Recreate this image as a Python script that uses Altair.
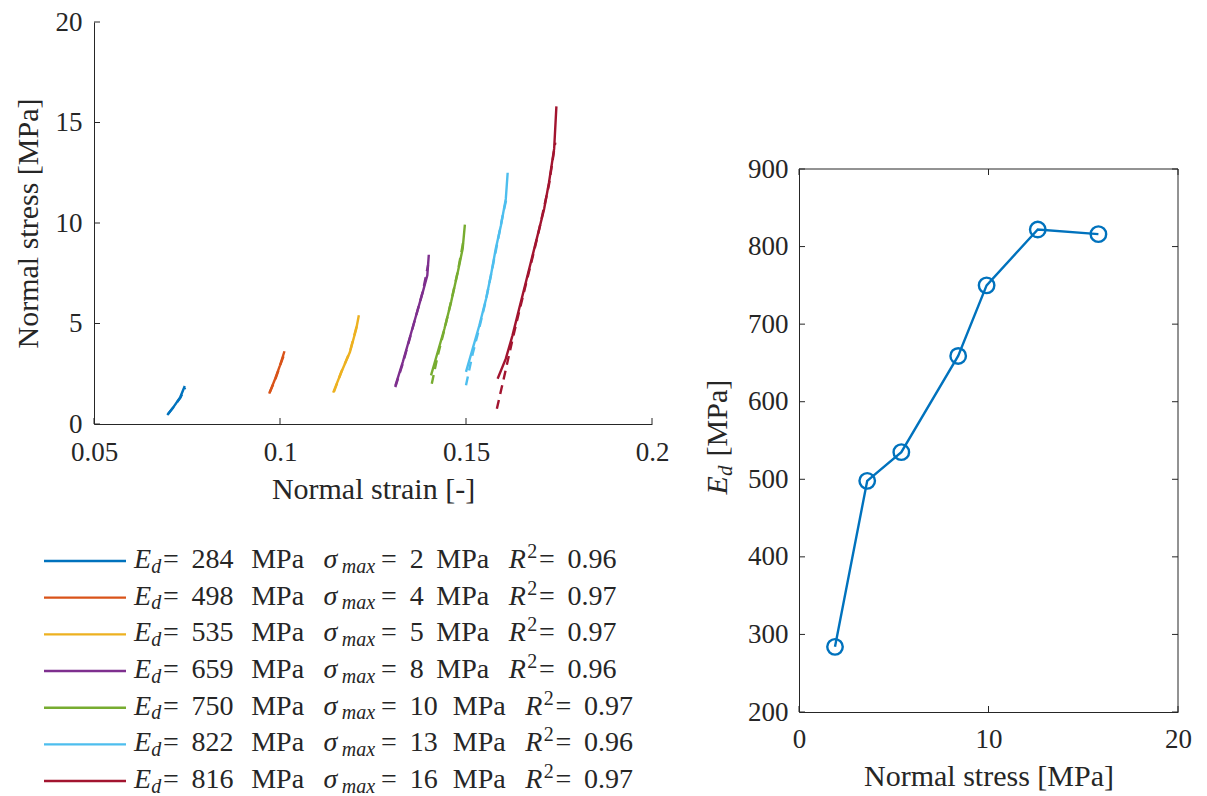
import altair as alt
import pandas as pd

# ---------------- data ----------------
series = ["s1", "s2", "s3", "s4", "s5", "s6", "s7"]
colors = ["#0072BD", "#D95319", "#EDB120", "#7E2F8E", "#77AC30", "#4DBEEE", "#A2142F"]

E_d = [284, 498, 535, 659, 750, 822, 816]
sigma_max_label = [2, 4, 5, 8, 10, 13, 16]
r_squared = [0.96, 0.97, 0.97, 0.96, 0.97, 0.96, 0.97]
sigma_max = [1.9, 3.6, 5.4, 8.4, 9.9, 12.6, 15.8]

# measured stress-strain segments (solid)
strain_1 = [0.0697, 0.0714, 0.0732, 0.0744]
stress_1 = [0.45, 0.85, 1.34, 1.89]
strain_2 = [0.0971, 0.0987, 0.1000, 0.1012]
stress_2 = [1.51, 2.25, 2.92, 3.62]
strain_3 = [0.1143, 0.1165, 0.1188, 0.1205, 0.1212]
stress_3 = [1.56, 2.59, 3.58, 4.74, 5.41]
strain_4 = [0.1310, 0.1330, 0.1348, 0.1366, 0.1384, 0.1396, 0.1400]
stress_4 = [1.90, 3.08, 4.24, 5.41, 6.57, 7.40, 8.42]
strain_5 = [0.1406, 0.1424, 0.1442, 0.1460, 0.1478, 0.1491, 0.1497]
stress_5 = [2.42, 3.58, 4.74, 6.07, 7.56, 8.72, 9.92]
strain_6 = [0.1500, 0.1518, 0.1536, 0.1554, 0.1567, 0.1580, 0.1594, 0.1607, 0.1612]
stress_6 = [2.59, 3.75, 4.91, 6.23, 7.40, 8.72, 9.89, 11.2, 12.5]
strain_7 = [0.1585, 0.1607, 0.1625, 0.1643, 0.1661, 0.1679, 0.1697, 0.1710, 0.1723, 0.1737, 0.1743]
stress_7 = [2.25, 3.25, 4.41, 5.74, 7.06, 8.39, 9.72, 10.7, 12.0, 13.7, 15.8]

# fitted curves (dashed)
fit_strain_1 = [0.0699, 0.0714, 0.0732, 0.0745]
fit_stress_1 = [0.50, 0.85, 1.30, 1.80]
fit_strain_2 = [0.0972, 0.0987, 0.1000, 0.1012]
fit_stress_2 = [1.55, 2.20, 2.90, 3.50]
fit_strain_3 = [0.1145, 0.1165, 0.1188, 0.1208]
fit_stress_3 = [1.60, 2.60, 3.60, 5.00]
fit_strain_4 = [0.1310, 0.1330, 0.1348, 0.1366, 0.1384, 0.1398]
fit_stress_4 = [1.84, 3.00, 4.20, 5.40, 6.60, 7.90]
fit_strain_5 = [0.1408, 0.1424, 0.1442, 0.1460, 0.1478, 0.1494]
fit_stress_5 = [2.00, 3.40, 4.70, 6.10, 7.60, 9.20]
fit_strain_6 = [0.1500, 0.1518, 0.1536, 0.1554, 0.1580, 0.1600, 0.1610]
fit_stress_6 = [1.93, 3.50, 4.80, 6.20, 8.60, 10.5, 11.3]
fit_strain_7 = [0.1583, 0.1602, 0.1625, 0.1643, 0.1661, 0.1679, 0.1697, 0.1723, 0.1740]
fit_stress_7 = [0.76, 2.30, 4.20, 5.60, 6.95, 8.30, 9.70, 11.9, 14.0]

strain_ticks = [0.05, 0.1, 0.15, 0.2]
stress_ticks = [0, 5, 10, 15, 20]
sigma_ticks = [0, 10, 20]
ed_ticks = [200, 300, 400, 500, 600, 700, 800, 900]

meas_strain = [strain_1, strain_2, strain_3, strain_4, strain_5, strain_6, strain_7]
meas_stress = [stress_1, stress_2, stress_3, stress_4, stress_5, stress_6, stress_7]
fit_strain = [fit_strain_1, fit_strain_2, fit_strain_3, fit_strain_4, fit_strain_5, fit_strain_6, fit_strain_7]
fit_stress = [fit_stress_1, fit_stress_2, fit_stress_3, fit_stress_4, fit_stress_5, fit_stress_6, fit_stress_7]


def long_table(xs_list, ys_list):
    rows = []
    for s, xs, ys in zip(series, xs_list, ys_list):
        for k, (a, b) in enumerate(zip(xs, ys)):
            rows.append({"series": s, "strain": a, "stress": b, "k": k})
    return pd.DataFrame(rows)


meas_df = long_table(meas_strain, meas_stress)
fit_df = long_table(fit_strain, fit_stress)
ed_df = pd.DataFrame({"sigma": sigma_max, "Ed": E_d})

# ---------------- style ----------------
FONT = "Liberation Serif"
AX = "#262626"
W1, H1 = 558, 402
W2, H2 = 379, 543
TICK = 6
LW = 2.4

# ---------------- left panel ----------------
xs = alt.Scale(domain=[0.05, 0.2], nice=False, zero=False)
ys = alt.Scale(domain=[0, 20], nice=False, zero=False)
col = alt.Color("series:N", scale=alt.Scale(domain=series, range=colors), legend=None)

measured = alt.Chart(meas_df).mark_line(strokeWidth=LW).encode(
    x=alt.X("strain:Q", scale=xs, axis=alt.Axis(
        values=strain_ticks, format="~g", title="Normal strain [-]", ticks=False,
        labelPadding=15, titlePadding=9, labelFlush=False, labelOverlap=False)),
    y=alt.Y("stress:Q", scale=ys, axis=alt.Axis(
        values=stress_ticks, title="Normal stress [MPa]", ticks=False,
        labelPadding=12, titlePadding=12, labelFlush=False, labelOverlap=False)),
    color=col, detail="series:N", order="k:Q",
)
fitted = alt.Chart(fit_df).mark_line(strokeWidth=LW, strokeDash=[9, 6]).encode(
    x=alt.X("strain:Q", scale=xs),
    y=alt.Y("stress:Q", scale=ys),
    color=col, detail="series:N", order="k:Q",
)
ytk1 = alt.Chart(pd.DataFrame({"stress": stress_ticks})).mark_rule(color=AX, strokeWidth=1).encode(
    y=alt.Y("stress:Q", scale=ys), x=alt.value(0), x2=alt.value(TICK))
xtk1 = alt.Chart(pd.DataFrame({"strain": strain_ticks})).mark_rule(color=AX, strokeWidth=1).encode(
    x=alt.X("strain:Q", scale=xs), y=alt.value(H1), y2=alt.value(H1 - TICK))

plot_left = alt.layer(measured, fitted, ytk1, xtk1)

# ---------------- custom legend (below left panel) ----------------
# glyph advances (em) of the serif font, used to place legend pieces
RM_W = {" ": 0.25, "=": 0.564, ".": 0.25, "M": 0.889, "P": 0.556, "a": 0.444}
for ch in "0123456789":
    RM_W[ch] = 0.5
IT_W = {"E": 0.52, "d": 0.5, "R": 0.56, "σ": 0.55, "m": 0.722, "a": 0.5, "x": 0.444}

LEG_FS = 28
LEG_SUB_FS = 20
STRETCH = 1.18
SPACE_PX = 10
LEG_X0 = 40          # text start, relative to plot origin
LEG_Y0 = 539         # first legend row centre
LEG_DY = 36.67
BASE = 7
SUB = 4.5
SUP = -10

rows_txt = []
rows_line = []
for i, s in enumerate(series):
    yc = LEG_Y0 + i * LEG_DY
    rows_line.append({"series": s, "lx1": -50, "lx2": 32, "ly": yc})
    toks = [
        ("E", "it_main"), ("d", "it_sub"), ("=", "rm_main"), (" ", "sp"),
        (str(E_d[i]), "rm_main"), (" ", "sp"), ("MPa", "rm_main"), (" ", "sp"),
        ("σ", "it_main"), ("max", "it_sub"), ("=", "rm_main"), (" ", "sp"),
        (str(sigma_max_label[i]), "rm_main"), (" ", "sp"), ("MPa", "rm_main"), (" ", "sp"),
        ("R", "it_main"), ("2", "rm_sup"), ("=", "rm_main"), (" ", "sp"),
        (f"{r_squared[i]:.2f}", "rm_main"),
    ]
    cx = LEG_X0
    for text, kind in toks:
        if kind == "sp":
            cx += SPACE_PX
            continue
        tbl = IT_W if kind.startswith("it") else RM_W
        small = kind.endswith("sub") or kind.endswith("sup")
        fs = LEG_SUB_FS if small else LEG_FS
        shift = SUB if kind.endswith("sub") else (SUP if kind.endswith("sup") else 0)
        rows_txt.append({"text": text, "px": cx, "py": yc + BASE + shift, "kind": kind})
        cx += sum(tbl[c] for c in text) * fs * STRETCH

leg_txt_df = pd.DataFrame(rows_txt)
leg_line_df = pd.DataFrame(rows_line)

leg_lines = alt.Chart(leg_line_df).mark_rule(strokeWidth=LW).encode(
    x=alt.X("lx1:Q", scale=None, axis=None), x2="lx2:Q",
    y=alt.Y("ly:Q", scale=None, axis=None), color=col)


def leg_text(kind, size, style):
    return alt.Chart(leg_txt_df).transform_filter(alt.datum.kind == kind).mark_text(
        align="left", baseline="alphabetic", font=FONT, fontSize=size,
        fontStyle=style, color=AX).encode(
        x=alt.X("px:Q", scale=None, axis=None), y=alt.Y("py:Q", scale=None, axis=None),
        text="text:N")


legend_layer = alt.layer(
    leg_lines,
    leg_text("rm_main", LEG_FS, "normal"),
    leg_text("it_main", LEG_FS, "italic"),
    leg_text("it_sub", LEG_SUB_FS, "italic"),
    leg_text("rm_sup", LEG_SUB_FS, "normal"),
)

left = alt.layer(plot_left, legend_layer).resolve_scale(x="independent", y="independent").properties(
    width=W1, height=H1)

# ---------------- right panel ----------------
xs2 = alt.Scale(domain=[0, 20], nice=False, zero=False)
ys2 = alt.Scale(domain=[200, 900], nice=False, zero=False)
BLUE = colors[0]

line_r = alt.Chart(ed_df).mark_line(color=BLUE, strokeWidth=LW).encode(
    x=alt.X("sigma:Q", scale=xs2, axis=alt.Axis(
        values=sigma_ticks, title="Normal stress [MPa]", ticks=False,
        labelPadding=14, titlePadding=9, labelFlush=False, labelOverlap=False)),
    y=alt.Y("Ed:Q", scale=ys2, axis=alt.Axis(
        values=ed_ticks, title=None, ticks=False, labelPadding=11,
        labelFlush=False, labelOverlap=False)),
)
pts_r = alt.Chart(ed_df).mark_point(shape="circle", filled=False, size=240, strokeWidth=LW,
                                    color=BLUE, opacity=1).encode(
    x=alt.X("sigma:Q", scale=xs2), y=alt.Y("Ed:Q", scale=ys2))

ed_tick_df = pd.DataFrame({"Ed": ed_ticks})
sg_tick_df = pd.DataFrame({"sigma": sigma_ticks})
ytk_l = alt.Chart(ed_tick_df).mark_rule(color=AX, strokeWidth=1).encode(
    y=alt.Y("Ed:Q", scale=ys2), x=alt.value(0), x2=alt.value(TICK))
ytk_r = alt.Chart(ed_tick_df).mark_rule(color=AX, strokeWidth=1).encode(
    y=alt.Y("Ed:Q", scale=ys2), x=alt.value(W2), x2=alt.value(W2 - TICK))
xtk_b = alt.Chart(sg_tick_df).mark_rule(color=AX, strokeWidth=1).encode(
    x=alt.X("sigma:Q", scale=xs2), y=alt.value(H2), y2=alt.value(H2 - TICK))
xtk_t = alt.Chart(sg_tick_df).mark_rule(color=AX, strokeWidth=1).encode(
    x=alt.X("sigma:Q", scale=xs2), y=alt.value(0), y2=alt.value(TICK))

one = pd.DataFrame({"a": [0]})
top_border = alt.Chart(one).mark_rule(color=AX, strokeWidth=1).encode(
    x=alt.value(0), x2=alt.value(W2), y=alt.value(0))
right_border = alt.Chart(one).mark_rule(color=AX, strokeWidth=1).encode(
    x=alt.value(W2), y=alt.value(0), y2=alt.value(H2))

# y-axis title  E_d [MPa]  (rotated, built from pieces for the subscript)
TX = -72
T_BOTTOM = H2 / 2 + 54
t_E = alt.Chart(one).mark_text(text="E", angle=270, align="left", baseline="alphabetic",
                               font=FONT, fontSize=30, fontStyle="italic", color=AX).encode(
    x=alt.value(TX), y=alt.value(T_BOTTOM))
t_d = alt.Chart(one).mark_text(text="d", angle=270, align="left", baseline="alphabetic",
                               font=FONT, fontSize=21, fontStyle="italic", color=AX).encode(
    x=alt.value(TX + 4.5), y=alt.value(T_BOTTOM - 0.62 * 30))
t_u = alt.Chart(one).mark_text(text="[MPa]", angle=270, align="left", baseline="alphabetic",
                               font=FONT, fontSize=30, color=AX).encode(
    x=alt.value(TX), y=alt.value(T_BOTTOM - 0.62 * 30 - 0.5 * 21 - 0.3 * 30))

right_plot = alt.layer(line_r, pts_r, ytk_l, ytk_r, xtk_b, xtk_t, top_border, right_border,
                       t_E, t_d, t_u).properties(width=W2, height=H2)

SPACER_H = 133
spacer = alt.Chart(one).mark_rule(opacity=0).encode(
    x=alt.value(0), y=alt.value(0), y2=alt.value(SPACER_H)).properties(width=W2, height=SPACER_H)

right = alt.vconcat(spacer, right_plot, spacing=0)

chart = alt.hconcat(left, right, spacing=34).properties(
    padding={"left": 5, "top": 0, "right": 5, "bottom": 5}
).configure_view(stroke=None).configure_axis(
    grid=False, domainColor=AX, domainWidth=1, labelFont=FONT, labelFontSize=27,
    labelColor=AX, titleFont=FONT, titleFontSize=30, titleFontWeight="normal", titleColor=AX,
)

chart.save("out.html", embed_options={"renderer": "svg", "actions": False})
